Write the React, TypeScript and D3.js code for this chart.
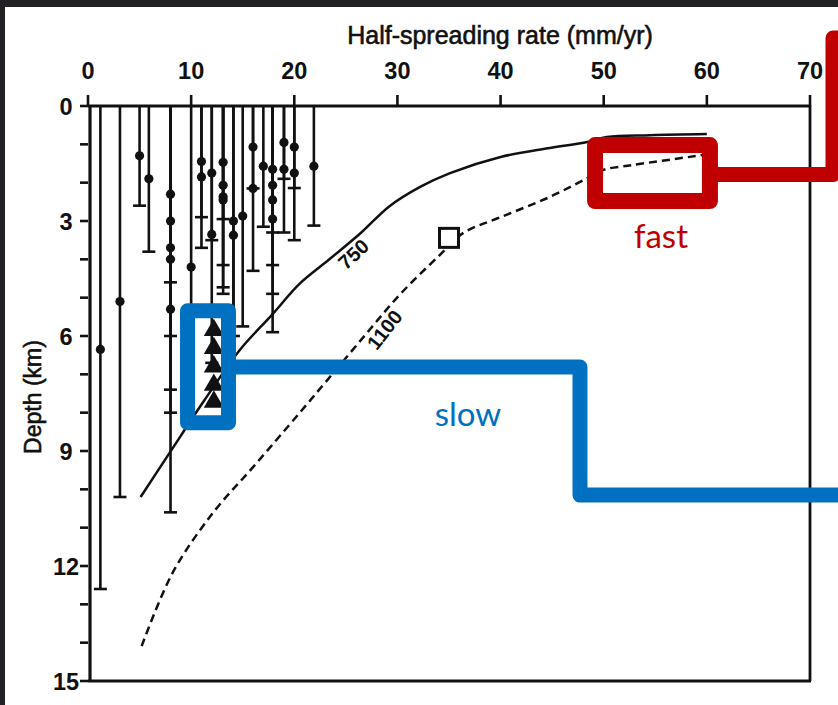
import React from 'react';
import * as d3 from 'd3';

// ---- axis ticks ----
const xTickValues = [0, 10, 20, 30, 40, 50, 60, 70];
const yTickLabels = [0, 3, 6, 9, 12, 15];
const yMinorTicks = [0, 1, 2, 3, 4, 5, 6, 7, 8, 9, 10, 11, 12, 13, 14, 15];

// ---- error bars: half-spreading rate, total depth (cap), mean depth (dot) ----
const barRates = [1.2, 3.1, 5.0, 5.9, 8.0, 8.0, 8.0, 8.0, 8.0, 10.0, 11.0, 11.0, 12.0, 12.0,
  13.1, 13.1, 13.1, 13.1, 14.1, 14.1, 15.0, 16.0, 16.0, 17.0, 17.9, 17.9, 17.9, 17.9,
  19.0, 19.0, 20.0, 20.0, 21.9];
const barMaxDepth = [12.6, 10.2, 2.6, 3.8, 4.6, 6.0, 7.4, 8.0, 10.6, 8.4, 2.9, 3.7, 3.5, 6.7,
  2.95, 4.15, 4.73, 4.9, 6.0, 6.75, 5.75, 2.15, 4.3, 3.15, 3.3, 4.15, 4.9, 5.9,
  1.9, 3.3, 2.14, 3.5, 3.12];
const barMeanDepth = [6.35, 5.1, 1.3, 1.9, 2.3, 3.0, 3.7, 4.0, 5.3, 4.2, 1.45, 1.85, 1.75, 3.35,
  1.47, 2.07, 2.37, 2.45, 3.0, 3.37, 2.87, 1.07, 2.15, 1.57, 1.65, 2.07, 2.45, 2.95,
  0.95, 1.65, 1.07, 1.75, 1.57];

// ---- triangles (slow-spreading observations) ----
const triRates = [12.2, 12.2, 12.2, 12.2, 12.2];
const triDepths = [5.85, 6.32, 6.8, 7.28, 7.72];

// ---- open square ----
const squareRate = [35.0];
const squareDepth = [3.44];

// ---- 750 isotherm (solid) ----
const iso750Rate = [5.1, 8.1, 11.3, 14.7, 17.9, 20.5, 23.4, 26.5, 29.2, 32.2, 35.1, 40.0, 44.6, 48.4, 50.3, 54.5, 60.0];
const iso750Depth = [10.2, 8.97, 7.67, 6.37, 5.43, 4.64, 4.0, 3.3, 2.62, 2.11, 1.75, 1.33, 1.1, 0.94, 0.81, 0.76, 0.73];

// ---- 1100 isotherm (dashed) ----
const iso1100Rate = [5.2, 8.2, 12.1, 16.0, 20.5, 23.2, 26.7, 30.2, 34.1, 36.4, 40.0, 44.8, 48.4, 49.9, 52.8, 59.6];
const iso1100Depth = [14.09, 12.18, 10.62, 9.42, 8.01, 7.15, 6.03, 4.93, 3.89, 3.31, 2.9, 2.37, 1.88, 1.67, 1.54, 1.28];

const FONT = "'Liberation Sans', Arial, Helvetica, sans-serif";
const RED = '#c00000';
const BLUE = '#0070c0';
const INK = '#111';

export default function App() {
  const W = 838, H = 705;
  const x = d3.scaleLinear().domain([0, 70]).range([88, 810]);
  const y = d3.scaleLinear().domain([0, 15]).range([106, 681]);

  const line = d3.line<[number, number]>()
    .x(d => x(d[0]))
    .y(d => y(d[1]))
    .curve(d3.curveCatmullRom.alpha(0.5));

  const p750 = line(iso750Rate.map((r, i) => [r, iso750Depth[i]] as [number, number])) || '';
  const p1100 = line(iso1100Rate.map((r, i) => [r, iso1100Depth[i]] as [number, number])) || '';

  const tri = d3.symbol().type(d3.symbolTriangle).size(175)() || '';

  const capW = 6.5;

  // annotation geometry (in data space, via scales)
  const redBox = { x0: x(49.16), x1: x(60.3), y0: y(1.02), y1: y(2.48) };
  const redLinkY = y(1.79);
  const blueBox = { x0: x(9.65), x1: x(13.62), y0: y(5.34), y1: y(8.26) };
  const blueLinkY = y(6.81);
  const blueStepX = x(47.7);
  const blueLowY = y(10.15);

  return (
    <svg width={W} height={H} style={{ position: 'absolute', left: 0, top: 0, display: 'block' }}
      xmlns="http://www.w3.org/2000/svg">
      <rect x={0} y={0} width={W} height={H} fill="#222226" />
      <rect x={5} y={7} width={W - 5} height={H - 7} fill="#ffffff" />

      {/* axis title */}
      <text x={500} y={44} textAnchor="middle" fontFamily={FONT} fontSize={25} fill={INK}
        stroke={INK} strokeWidth={0.6}>Half-spreading rate (mm/yr)</text>

      {/* x tick labels */}
      {xTickValues.map(v => (
        <text key={'xl' + v} x={x(v)} y={79} textAnchor="middle" fontFamily={FONT}
          fontSize={23.5} fontWeight="bold" fill={INK}>{v}</text>
      ))}
      {/* x ticks */}
      {xTickValues.map(v => (
        <line key={'xt' + v} x1={x(v)} x2={x(v)} y1={95} y2={y(0)} stroke={INK} strokeWidth={2.6} />
      ))}

      {/* y tick labels */}
      {yTickLabels.map(v => (
        <text key={'yl' + v} x={66} y={y(v) + 8.5} textAnchor="middle" fontFamily={FONT}
          fontSize={23.5} fontWeight="bold" fill={INK}>{v}</text>
      ))}
      {yMinorTicks.map(v => (
        <line key={'yt' + v} x1={80} x2={x(0)} y1={y(v)} y2={y(v)} stroke={INK} strokeWidth={2.6} />
      ))}

      <text transform={`translate(41,${397}) rotate(-90)`} textAnchor="middle" fontFamily={FONT}
        fontSize={23} fill={INK} stroke={INK} strokeWidth={0.6}>Depth (km)</text>

      {/* error bars */}
      {barRates.map((r, i) => (
        <g key={'b' + i}>
          <line x1={x(r)} x2={x(r)} y1={y(0)} y2={y(barMaxDepth[i])} stroke={INK} strokeWidth={2.6} />
          <line x1={x(r) - capW} x2={x(r) + capW} y1={y(barMaxDepth[i])} y2={y(barMaxDepth[i])}
            stroke={INK} strokeWidth={2.6} />
          <circle cx={x(r)} cy={y(barMeanDepth[i])} r={4.6} fill={INK} />
        </g>
      ))}

      {/* isotherms */}
      <path d={p750} fill="none" stroke={INK} strokeWidth={2.5} />
      <path d={p1100} fill="none" stroke={INK} strokeWidth={2.5} strokeDasharray="8 5" />

      <text transform={`translate(${x(26.2)},${y(4.0)}) rotate(-43)`} textAnchor="middle"
        fontFamily={FONT} fontSize={20} fontWeight="bold" fill={INK}>750</text>
      <text transform={`translate(${x(29.3)},${y(5.95)}) rotate(-52)`} textAnchor="middle"
        fontFamily={FONT} fontSize={20} fontWeight="bold" fill={INK}>1100</text>

      {/* open square */}
      {squareRate.map((r, i) => (
        <rect key={'sq' + i} x={x(r) - 9.5} y={y(squareDepth[i]) - 9.5} width={19} height={19}
          fill="#fff" stroke={INK} strokeWidth={3} />
      ))}

      {/* triangles */}
      {triRates.map((r, i) => (
        <path key={'tr' + i} d={tri} transform={`translate(${x(r)},${y(triDepths[i])})`} fill={INK} />
      ))}

      {/* frame */}
      <line x1={x(0)} x2={x(70)} y1={y(0)} y2={y(0)} stroke={INK} strokeWidth={3.2} />
      <line x1={x(0) + 2} x2={x(0) + 2} y1={y(0)} y2={y(15)} stroke={INK} strokeWidth={3.2} />
      <line x1={x(0)} x2={x(70) + 1} y1={y(15)} y2={y(15)} stroke={INK} strokeWidth={3.2} />
      <line x1={x(70)} x2={x(70)} y1={y(0) - 1} y2={y(15)} stroke={INK} strokeWidth={2.8} />

      {/* red annotation */}
      <rect x={redBox.x0} y={redBox.y0} width={redBox.x1 - redBox.x0} height={redBox.y1 - redBox.y0}
        fill="none" stroke={RED} strokeWidth={16} strokeLinejoin="round" />
      <path d={`M${redBox.x1},${redLinkY} H833 V38 H880`} fill="none" stroke={RED} strokeWidth={15}
        strokeLinejoin="round" />
      <text x={661} y={248} textAnchor="middle" fontFamily="Lato, 'Open Sans', sans-serif" fontSize={33}
        fill={RED}>fast</text>

      {/* blue annotation */}
      <rect x={blueBox.x0} y={blueBox.y0} width={blueBox.x1 - blueBox.x0} height={blueBox.y1 - blueBox.y0}
        fill="none" stroke={BLUE} strokeWidth={15} strokeLinejoin="round" />
      <path d={`M${blueBox.x1},${blueLinkY} H${blueStepX} V${blueLowY} H880`} fill="none" stroke={BLUE}
        strokeWidth={15} strokeLinejoin="round" />
      <text x={468} y={426} textAnchor="middle" fontFamily="Lato, 'Open Sans', sans-serif" fontSize={33}
        fill={BLUE}>slow</text>
    </svg>
  );
}
